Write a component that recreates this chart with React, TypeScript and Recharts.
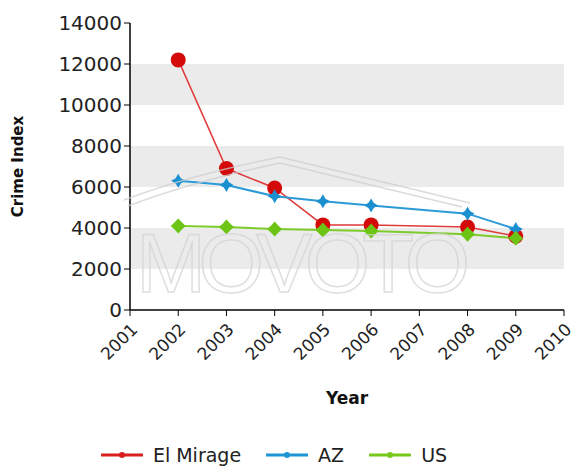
import { LineChart, Line, XAxis, YAxis, CartesianGrid, Legend } from 'recharts';

const years = [2002, 2003, 2004, 2005, 2006, 2008, 2009];
const elMirage = [12200, 6900, 5950, 4150, 4150, 4050, 3600];
const az = [6300, 6100, 5550, 5300, 5100, 4700, 3950];
const us = [4100, 4050, 3950, 3900, 3850, 3700, 3500];
const xTicks = [2001, 2002, 2003, 2004, 2005, 2006, 2007, 2008, 2009, 2010];
const yTicks = [0, 2000, 4000, 6000, 8000, 10000, 12000, 14000];

const series = [
  { key: 'elMirage', name: 'El Mirage', color: '#d81e1e' },
  { key: 'az', name: 'AZ', color: '#1e96d6' },
  { key: 'us', name: 'US', color: '#76c81a' },
];

const data = years.map((year, i) => ({ year, elMirage: elMirage[i], az: az[i], us: us[i] }));

const FONT = '"DejaVu Sans", Verdana, sans-serif';

const RedDot = (p: any) => <circle cx={p.cx} cy={p.cy} r={7.5} fill="#d40a0a" />;

const BlueStar = (p: any) => {
  const { cx, cy } = p;
  const o = 7, n = 2.6;
  const d = `M${cx},${cy - o} L${cx + n},${cy - n} L${cx + o},${cy} L${cx + n},${cy + n} L${cx},${cy + o} L${cx - n},${cy + n} L${cx - o},${cy} L${cx - n},${cy - n} Z`;
  return <path d={d} fill="#1a90d0" />;
};

const GreenDiamond = (p: any) => {
  const { cx, cy } = p;
  const o = 7.5, n = 3.6;
  const d = `M${cx},${cy - o} L${cx + n},${cy - n} L${cx + o},${cy} L${cx + n},${cy + n} L${cx},${cy + o} L${cx - n},${cy + n} L${cx - o},${cy} L${cx - n},${cy - n} Z`;
  return <path d={d} fill="#6cc414" />;
};

const renderLegend = () => (
  <div style={{ display: 'flex', justifyContent: 'center', alignItems: 'center', fontFamily: FONT, fontSize: 19, color: '#222', height: 30, paddingRight: 16 }}>
    {series.map((s, i) => (
      <div key={s.key} style={{ display: 'flex', alignItems: 'center', marginRight: i < series.length - 1 ? 25 : 0 }}>
        <svg width={42} height={10} style={{ marginRight: 10 }}>
          <line x1={0} y1={5} x2={42} y2={5} stroke={s.color} strokeWidth={3} />
          <circle cx={21} cy={5} r={3} fill={s.color} />
        </svg>
        <span>{s.name}</span>
      </div>
    ))}
  </div>
);

export default function App() {
  return (
    <div style={{ position: 'absolute', left: 0, top: 0, width: 573, height: 470, background: '#fff' }}>
      <LineChart width={573} height={470} data={data} margin={{ top: 23, right: 9, left: 0, bottom: 0 }}>
        <CartesianGrid vertical={false} stroke="none" horizontalFill={['transparent', '#ebebeb']} />
        <XAxis
          dataKey="year"
          type="number"
          domain={[2001, 2010]}
          ticks={xTicks}
          height={130}
          interval={0}
          tickLine={{ stroke: '#000' }}
          axisLine={{ stroke: '#000', strokeWidth: 1.5 }}
          tick={{ fill: '#222', fontSize: 17, fontFamily: FONT, angle: -45, textAnchor: 'end', dy: 4 }}
          label={{ value: 'Year', position: 'insideTop', offset: 82, style: { fontFamily: FONT, fontWeight: 'bold', fontSize: 17, fill: '#111' } }}
        />
        <YAxis
          domain={[0, 14000]}
          ticks={yTicks}
          width={130}
          interval={0}
          tickLine={{ stroke: '#000' }}
          axisLine={{ stroke: '#000', strokeWidth: 1.5 }}
          tick={{ fill: '#222', fontSize: 20, fontFamily: FONT }}
          label={{ value: 'Crime Index', angle: -90, position: 'insideLeft', offset: 18, style: { textAnchor: 'middle', fontFamily: FONT, fontWeight: 'bold', fontSize: 15, fill: '#111' } }}
        />
        <Line dataKey="elMirage" name="El Mirage" stroke="#e03a3a" strokeWidth={1.5} dot={RedDot} activeDot={false} isAnimationActive={false} />
        <Line dataKey="az" name="AZ" stroke="#2a9ad8" strokeWidth={2} dot={BlueStar} activeDot={false} isAnimationActive={false} />
        <Line dataKey="us" name="US" stroke="#7ccb2a" strokeWidth={2} dot={GreenDiamond} activeDot={false} isAnimationActive={false} />
        <Legend verticalAlign="bottom" height={30} content={renderLegend} />
      </LineChart>
      <svg width={573} height={470} style={{ position: 'absolute', left: 0, top: 0, pointerEvents: 'none' }}>
        <g fill="none" stroke="#cfcfcf" strokeWidth={1.5} opacity={0.75}>
          <path d="M124,200 Q190,175 280,157 L470,203" />
          <path d="M128,206 Q195,181 280,163 L462,207" />
        </g>
        <text x={136} y={292} textLength={334} fontFamily="Arial, Liberation Sans, sans-serif" fontSize={84} fill="none" stroke="#d4d4d4" strokeWidth={1.5} opacity={0.75}>MOVOTO</text>
      </svg>
    </div>
  );
}
